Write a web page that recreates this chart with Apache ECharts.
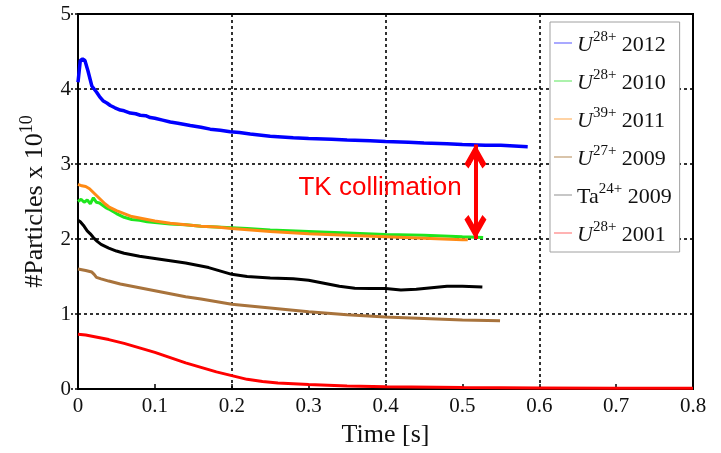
<!DOCTYPE html>
<html>
<head>
<meta charset="utf-8">
<script src="https://cdn.jsdelivr.net/npm/echarts@6/dist/echarts.min.js"></script>
<style>
  html, body { margin: 0; padding: 0; background: #fff; }
  #chart { width: 721px; height: 453px; }
</style>
</head>
<body>
<div id="chart"></div>
<script>
// Beam intensity (particles x 1e10) versus time after injection, per ion species / year
const xTicks = [0, 0.1, 0.2, 0.3, 0.4, 0.5, 0.6, 0.7, 0.8];
const yTicks = [0, 1, 2, 3, 4, 5];

const tU28_2012 = [0, 0.003, 0.006, 0.009, 0.013, 0.018, 0.024, 0.028, 0.033, 0.038, 0.042, 0.048, 0.055, 0.06, 0.068, 0.075, 0.081, 0.088, 0.094, 0.1, 0.11, 0.12, 0.13, 0.146, 0.16, 0.172, 0.185, 0.198, 0.21, 0.224, 0.25, 0.28, 0.3, 0.33, 0.35, 0.38, 0.4, 0.43, 0.45, 0.48, 0.5, 0.53, 0.55, 0.585];
const vU28_2012 = [4.09, 4.38, 4.40, 4.38, 4.24, 4.04, 3.96, 3.90, 3.84, 3.81, 3.78, 3.75, 3.72, 3.71, 3.68, 3.67, 3.65, 3.645, 3.62, 3.61, 3.585, 3.56, 3.545, 3.515, 3.49, 3.465, 3.45, 3.43, 3.42, 3.40, 3.37, 3.35, 3.34, 3.33, 3.32, 3.31, 3.30, 3.29, 3.28, 3.27, 3.26, 3.25, 3.25, 3.23];

const tU28_2010 = [0, 0.004, 0.008, 0.012, 0.016, 0.02, 0.024, 0.028, 0.032, 0.036, 0.04, 0.045, 0.05, 0.06, 0.07, 0.08, 0.09, 0.1, 0.12, 0.14, 0.16, 0.18, 0.2, 0.22, 0.25, 0.3, 0.35, 0.4, 0.45, 0.5, 0.527];
const vU28_2010 = [2.50, 2.53, 2.49, 2.52, 2.47, 2.55, 2.49, 2.48, 2.45, 2.42, 2.40, 2.37, 2.34, 2.29, 2.26, 2.25, 2.23, 2.22, 2.20, 2.19, 2.17, 2.16, 2.15, 2.14, 2.12, 2.10, 2.08, 2.06, 2.05, 2.03, 2.02];

const tU39_2011 = [0, 0.005, 0.01, 0.015, 0.02, 0.025, 0.03, 0.035, 0.04, 0.05, 0.06, 0.07, 0.08, 0.09, 0.1, 0.12, 0.14, 0.16, 0.18, 0.2, 0.25, 0.3, 0.35, 0.4, 0.45, 0.5, 0.507];
const vU39_2011 = [2.73, 2.71, 2.70, 2.67, 2.62, 2.57, 2.52, 2.47, 2.43, 2.38, 2.34, 2.30, 2.28, 2.26, 2.24, 2.21, 2.19, 2.17, 2.16, 2.14, 2.10, 2.07, 2.05, 2.03, 2.01, 1.99, 1.99];

const tU27_2009 = [0, 0.01, 0.018, 0.021, 0.024, 0.03, 0.04, 0.055, 0.08, 0.1, 0.12, 0.14, 0.16, 0.2, 0.25, 0.3, 0.35, 0.4, 0.45, 0.5, 0.549];
const vU27_2009 = [1.60, 1.58, 1.56, 1.53, 1.49, 1.47, 1.44, 1.40, 1.35, 1.31, 1.27, 1.23, 1.20, 1.13, 1.08, 1.03, 0.99, 0.96, 0.94, 0.92, 0.91];

const tTa24_2009 = [0, 0.003, 0.008, 0.012, 0.016, 0.02, 0.025, 0.03, 0.04, 0.05, 0.06, 0.08, 0.1, 0.12, 0.14, 0.16, 0.17, 0.18, 0.19, 0.2, 0.22, 0.25, 0.28, 0.3, 0.32, 0.34, 0.36, 0.38, 0.4, 0.42, 0.44, 0.46, 0.48, 0.5, 0.526];
const vTa24_2009 = [2.25, 2.23, 2.17, 2.11, 2.07, 2.02, 1.97, 1.93, 1.88, 1.84, 1.81, 1.77, 1.74, 1.71, 1.68, 1.64, 1.62, 1.59, 1.56, 1.53, 1.50, 1.48, 1.47, 1.45, 1.41, 1.37, 1.345, 1.34, 1.34, 1.32, 1.33, 1.35, 1.37, 1.37, 1.36];

const tU28_2001 = [0, 0.01, 0.02, 0.04, 0.06, 0.08, 0.1, 0.12, 0.14, 0.16, 0.18, 0.2, 0.22, 0.24, 0.26, 0.28, 0.3, 0.35, 0.4, 0.5, 0.6, 0.7, 0.8];
const vU28_2001 = [0.73, 0.72, 0.70, 0.66, 0.61, 0.55, 0.49, 0.42, 0.35, 0.29, 0.23, 0.18, 0.13, 0.10, 0.08, 0.07, 0.06, 0.04, 0.03, 0.02, 0.015, 0.01, 0.01];

// Collimation gap marker (time, upper and lower intensity) and its caption
const gapTime = 0.517;
const gapTop = 3.26;
const gapBottom = 2.0;
const gapCaption = 'TK collimation';
const captionAt = [0.393, 2.68];

const serif = 'Liberation Serif';
const sans = 'Liberation Sans';

function pairs(t, v) { return t.map((x, i) => [x, v[i]]); }

const legendLabels = {
  'U28+ 2012': '{i|U}{s|28+}{n| 2012}',
  'U28+ 2010': '{i|U}{s|28+}{n| 2010}',
  'U39+ 2011': '{i|U}{s|39+}{n| 2011}',
  'U27+ 2009': '{i|U}{s|27+}{n| 2009}',
  'Ta24+ 2009': '{n|Ta}{s|24+}{n| 2009}',
  'U28+ 2001': '{i|U}{s|28+}{n| 2001}'
};

// open arrow head, tip at the top of the symbol box
const chevron = 'path://M0,0 L11,13 L7,16 L0,8 L-7,16 L-11,13 Z';

const chart = echarts.init(document.getElementById('chart'), null, { renderer: 'canvas' });

function lineSeries(name, t, v, color, width, extra) {
  return Object.assign({
    name: name,
    type: 'line',
    xAxisIndex: 0,
    data: pairs(t, v),
    showSymbol: false,
    symbol: 'none',
    lineStyle: { color: color, width: width },
    itemStyle: { color: color },
    animation: false
  }, extra || {});
}

function tickText(list) {
  return function (v) {
    const k = list.find(t => Math.abs(t - v) < 1e-6);
    return k === undefined ? '' : String(k);
  };
}

const option = {
  backgroundColor: '#fff',
  animation: false,
  textStyle: { fontFamily: serif },
  grid: { left: 78, right: 28, top: 14, bottom: 60, show: true, borderColor: '#000', borderWidth: 2, backgroundColor: 'transparent' },
  legend: {
    orient: 'vertical',
    left: 550,
    top: 22,
    padding: [8, 8, 6, 4],
    itemGap: 12,
    itemWidth: 18,
    itemHeight: 1.5,
    icon: 'rect',
    backgroundColor: '#fff',
    borderColor: '#a0a0a0',
    borderWidth: 1,
    z: 10,
    selectedMode: false,
    data: [
      { name: 'U28+ 2012', itemStyle: { color: '#8c8cff' } },
      { name: 'U28+ 2010', itemStyle: { color: '#90ee90' } },
      { name: 'U39+ 2011', itemStyle: { color: '#ffc486' } },
      { name: 'U27+ 2009', itemStyle: { color: '#cdb08e' } },
      { name: 'Ta24+ 2009', itemStyle: { color: '#b4b4b4' } },
      { name: 'U28+ 2001', itemStyle: { color: '#ff9a9a' } }
    ],
    formatter: function (name) { return legendLabels[name]; },
    textStyle: {
      color: '#111',
      fontFamily: serif,
      rich: {
        i: { fontFamily: serif, fontStyle: 'italic', fontSize: 22, lineHeight: 26, verticalAlign: 'bottom' },
        n: { fontFamily: serif, fontSize: 22, lineHeight: 26, verticalAlign: 'bottom' },
        s: { fontFamily: serif, fontSize: 15, lineHeight: 16, verticalAlign: 'top' }
      }
    }
  },
  xAxis: [
    {
      type: 'value', min: 0, max: 0.8, interval: 0.1,
      name: 'Time [s]', nameLocation: 'middle', nameGap: 30,
      nameTextStyle: { fontFamily: serif, fontSize: 26, color: '#111' },
      axisLine: { show: true, lineStyle: { color: '#000', width: 2 } },
      axisTick: { show: true, inside: true, length: 5, lineStyle: { color: '#000', width: 1.5 } },
      axisLabel: { margin: 7, fontFamily: serif, fontSize: 21, color: '#111', formatter: tickText(xTicks) },
      splitLine: { show: false }
    },
    {
      type: 'value', min: 0, max: 0.8, interval: 0.2, position: 'bottom',
      axisLine: { show: false }, axisTick: { show: false }, axisLabel: { show: false },
      splitLine: { show: true, lineStyle: { color: '#000', width: 1.6, type: [3, 3] } }
    }
  ],
  yAxis: {
    type: 'value', min: 0, max: 5, interval: 1,
    name: '{n|#Particles x 10}{s|10}', nameLocation: 'middle', nameGap: 30,
    nameTextStyle: {
      color: '#111',
      fontFamily: serif,
      rich: {
        n: { fontFamily: serif, fontSize: 26, lineHeight: 30, verticalAlign: 'bottom' },
        s: { fontFamily: serif, fontSize: 18, lineHeight: 18, verticalAlign: 'top' }
      }
    },
    axisLine: { show: true, lineStyle: { color: '#000', width: 2 } },
    axisTick: { show: true, inside: false, length: 7, lineStyle: { color: '#000', width: 1.5, type: [3, 2] } },
    axisLabel: { margin: 7, fontFamily: serif, fontSize: 21, color: '#111', formatter: tickText(yTicks) },
    splitLine: { show: true, lineStyle: { color: '#000', width: 1.6, type: [3, 3] } }
  },
  series: [
    lineSeries('U28+ 2001', tU28_2001, vU28_2001, '#ff0000', 3),
    lineSeries('U27+ 2009', tU27_2009, vU27_2009, '#a8733c', 3),
    lineSeries('Ta24+ 2009', tTa24_2009, vTa24_2009, '#000000', 3),
    lineSeries('U28+ 2010', tU28_2010, vU28_2010, '#1ee61e', 3),
    lineSeries('U39+ 2011', tU39_2011, vU39_2011, '#ff8a14', 3),
    lineSeries('U28+ 2012', tU28_2012, vU28_2012, '#0000ff', 3.5, {
      markLine: {
        silent: true,
        animation: false,
        symbol: [chevron, chevron],
        symbolSize: [22, 24],
        symbolOffset: [[0, 12], [0, 12]],
        lineStyle: { color: '#ff0000', width: 4, type: 'solid' },
        itemStyle: { color: '#ff0000' },
        label: { show: false },
        data: [[{ coord: [gapTime, gapTop] }, { coord: [gapTime, gapBottom] }]]
      },
      markPoint: {
        silent: true,
        animation: false,
        symbol: 'circle',
        symbolSize: 0,
        label: { show: true, position: 'inside', formatter: gapCaption, color: '#ff0000', fontFamily: sans, fontSize: 26 },
        data: [{ coord: captionAt }]
      }
    })
  ]
};

chart.setOption(option);
</script>
</body>
</html>
